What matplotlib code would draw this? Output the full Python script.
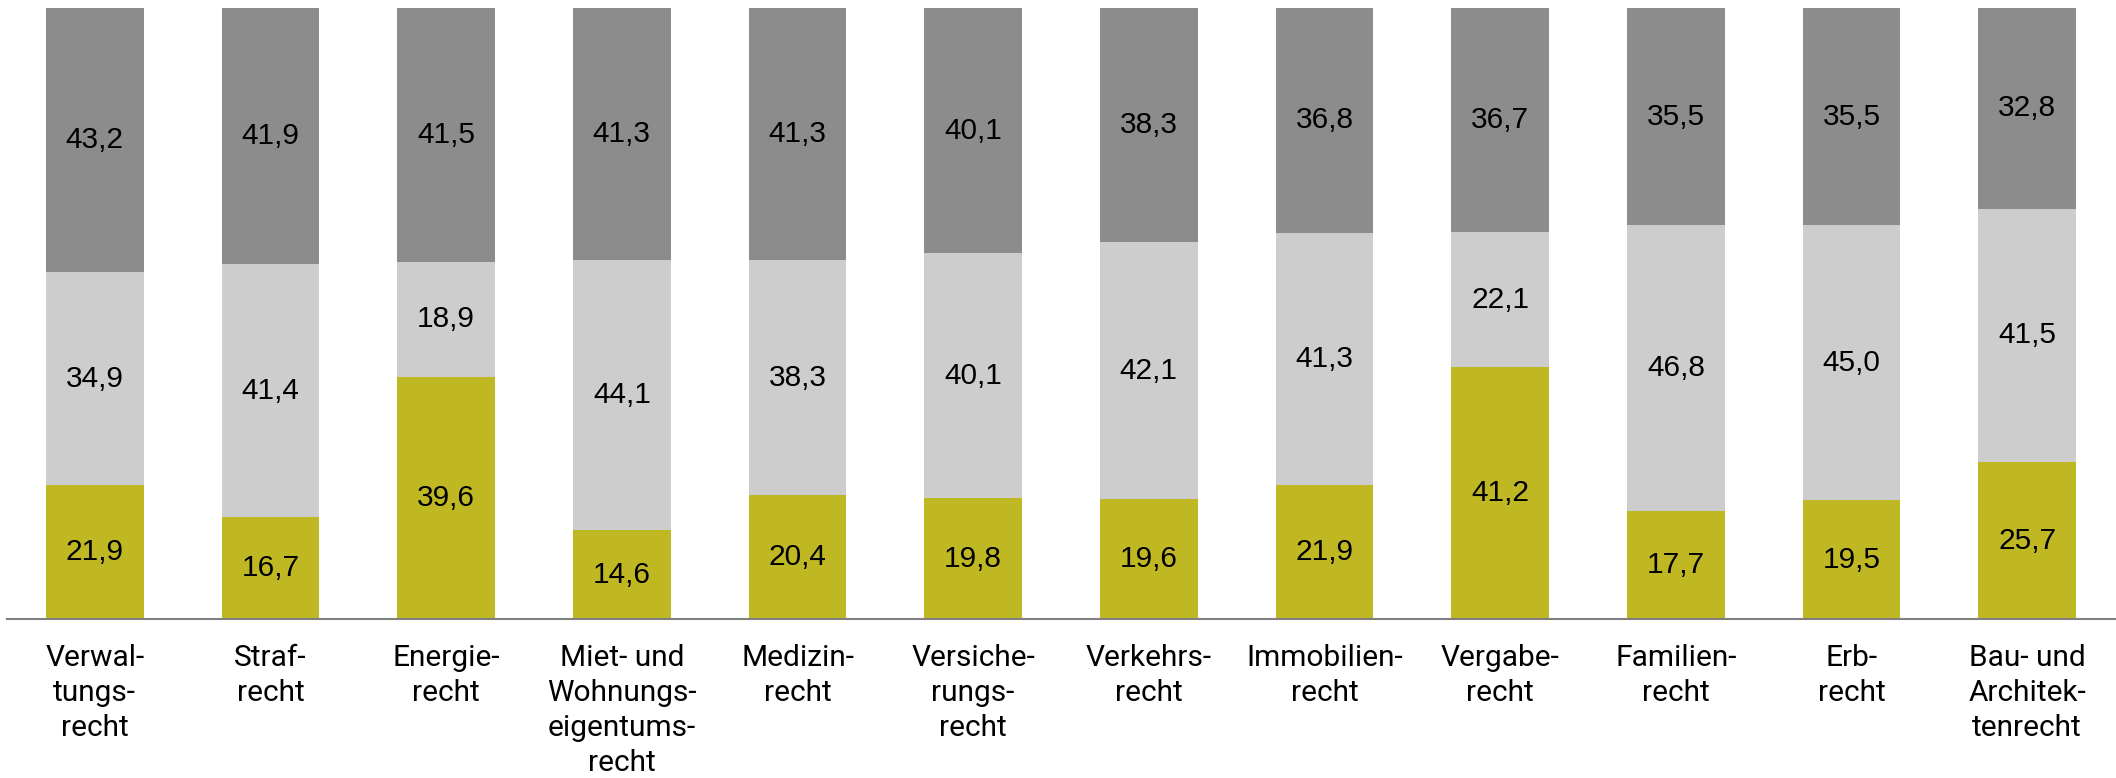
import numpy as np
import matplotlib
matplotlib.use("Agg")
import matplotlib.pyplot as plt

# Data (Prozent je Rechtsgebiet)
categories = [
    "Verwal-\ntungs-\nrecht", "Straf-\nrecht", "Energie-\nrecht",
    "Miet- und\nWohnungs-\neigentums-\nrecht", "Medizin-\nrecht",
    "Versiche-\nrungs-\nrecht", "Verkehrs-\nrecht", "Immobilien-\nrecht",
    "Vergabe-\nrecht", "Familien-\nrecht", "Erb-\nrecht",
    "Bau- und\nArchitek-\ntenrecht",
]
bottom_vals = [21.9, 16.7, 39.6, 14.6, 20.4, 19.8, 19.6, 21.9, 41.2, 17.7, 19.5, 25.7]
middle_vals = [34.9, 41.4, 18.9, 44.1, 38.3, 40.1, 42.1, 41.3, 22.1, 46.8, 45.0, 41.5]
top_vals = [43.2, 41.9, 41.5, 41.3, 41.3, 40.1, 38.3, 36.8, 36.7, 35.5, 35.5, 32.8]

colors = ["#BFB823", "#CDCDCD", "#8C8C8C"]

fig = plt.figure(figsize=(21.16, 7.78), dpi=100)
ax = fig.add_axes([7 / 2116, 158.7 / 778, 2108 / 2116, 611.3 / 778])

x = np.arange(len(categories))
width = 0.556
base = np.zeros(len(categories))
for vals, col in zip([bottom_vals, middle_vals, top_vals], colors):
    vals = np.array(vals)
    ax.bar(x, vals, width, bottom=base, color=col, linewidth=0)
    for xi, b, v in zip(x, base, vals):
        ax.text(xi, b + v / 2, f"{v:.1f}".replace(".", ","), ha="center", va="center",
                fontsize=21.5, family=["Liberation Sans", "DejaVu Sans"], color="black")
    base += vals

ax.set_xlim(-0.5, len(categories) - 0.5)
ax.set_ylim(0, 100)
ax.set_yticks([])
ax.set_xticks(x)
ax.set_xticklabels(categories, fontsize=21.5, family=["Roboto", "DejaVu Sans"],
                   linespacing=1.32, va="top")
ax.tick_params(axis="x", length=0, pad=18)
for s in ["top", "left", "right"]:
    ax.spines[s].set_visible(False)
ax.spines["bottom"].set_color("#808080")
ax.spines["bottom"].set_linewidth(1.5)

fig.savefig("out.png", dpi=100)
